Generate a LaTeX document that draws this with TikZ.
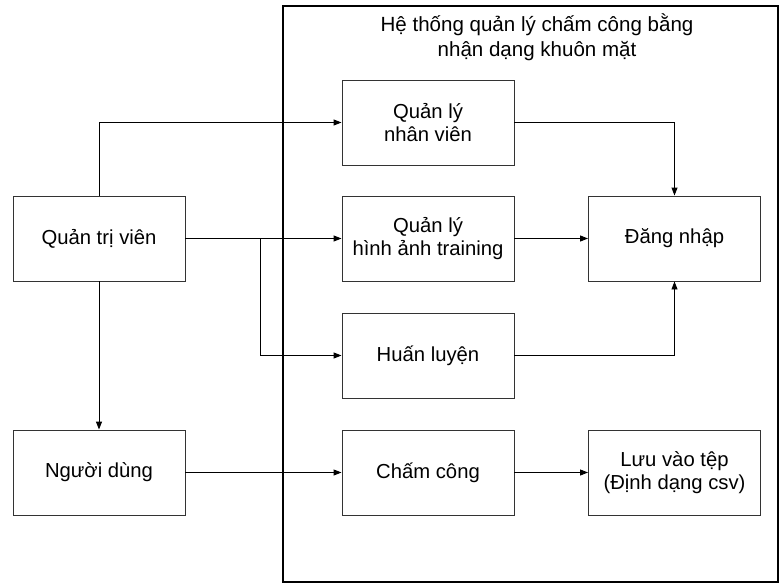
\documentclass[tikz,border=0pt]{standalone}
\usepackage{fontspec}
\setmainfont{Liberation Sans}
\usetikzlibrary{arrows.meta}
\begin{document}
\begin{tikzpicture}[x=0.75pt,y=-0.75pt,
  box/.style={draw=black!80,line width=0.7pt,minimum width=129pt,minimum height=63.75pt,
    align=center,inner sep=0pt,font=\fontsize{15.2}{17.5}\selectfont},
  arr/.style={draw=black,line width=0.7pt,-{Triangle[length=6pt,width=4.5pt]}},
  ttl/.style={align=center,font=\fontsize{15.4}{18.8}\selectfont}]
\useasboundingbox (0,0) rectangle (781,588);
\node[draw=black,line width=1.6pt,minimum width=371.25pt,minimum height=432pt,inner sep=0pt] (sys) at (530.5,294) {};
\node[ttl] (title) at (537,37) {Hệ thống quản lý chấm công bằng\\nhận dạng khuôn mặt};
\node[box] (qlnv) at (428,122.5) {Quản lý\\nhân viên};
\node[box] (qlha) at (428,238.5) {Quản lý\\hình ảnh training};
\node[box] (hl) at (428,355.5) {Huấn luyện};
\node[box] (cc) at (428,472.5) {Chấm công};
\node[box] (dn) at (674.5,238.5) {Đăng nhập};
\node[box] (luu) at (674.5,472.5) {Lưu vào tệp\\(Định dạng csv)};
\node[box] (qtv) at (99,238.5) {Quản trị viên};
\node[box] (nd) at (99,472.5) {Người dùng};
\coordinate (br) at (260,238.5);
\draw[arr] (qtv.north) |- (qlnv.west);
\draw[arr] (qtv.east) -- (qlha.west);
\draw[arr] (br) |- (hl.west);
\draw[arr] (qtv.south) -- (nd.north);
\draw[arr] (nd.east) -- (cc.west);
\draw[arr] (cc.east) -- (luu.west);
\draw[arr] (qlnv.east) -| (dn.north);
\draw[arr] (qlha.east) -- (dn.west);
\draw[arr] (hl.east) -| (dn.south);
\end{tikzpicture}
\end{document}
